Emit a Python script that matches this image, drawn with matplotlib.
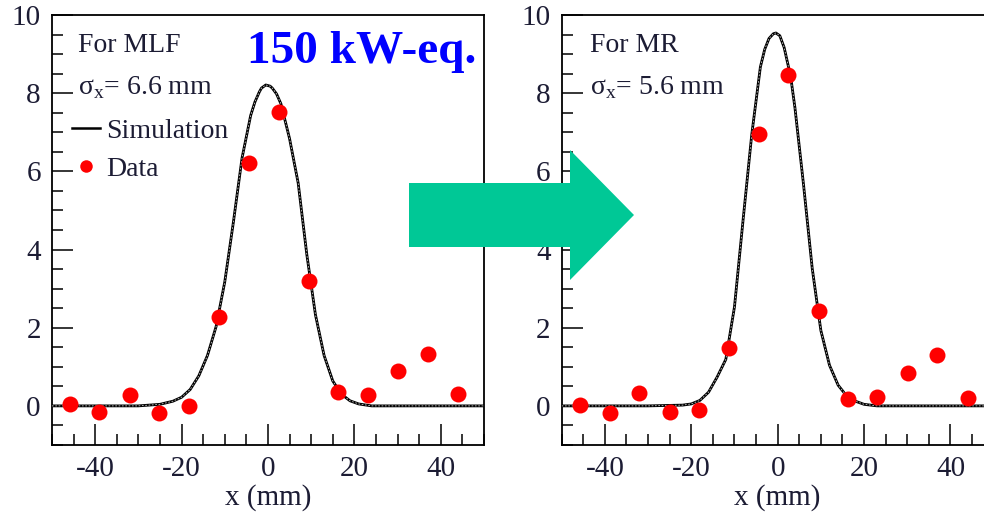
import matplotlib
matplotlib.use("Agg")
import matplotlib.pyplot as plt
from matplotlib.patches import FancyArrow
from matplotlib.lines import Line2D
from matplotlib.ticker import MultipleLocator

plt.rcParams['font.family'] = ['Liberation Serif', 'DejaVu Serif']
plt.rcParams['mathtext.fontset'] = 'custom'
plt.rcParams['mathtext.rm'] = 'Liberation Serif'
plt.rcParams['axes.unicode_minus'] = False

# --- données ---
# MLF (150 kW-eq.)
mlf_x = [-45.9, -39.0, -32.0, -25.2, -18.3, -11.4, -4.5, 2.6, 9.6, 16.3, 23.2, 30.1, 37.1, 44.1]
mlf_y = [0.04, -0.15, 0.27, -0.19, 0.0, 2.27, 6.22, 7.53, 3.19, 0.36, 0.27, 0.89, 1.32, 0.30]
mlf_sim_x = [-50, -30, -25, -22, -20, -18, -16, -14, -12, -10, -8, -6, -4, -3, -2, -1.5,
             -0.5, 0.5, 1, 2, 3, 5, 7, 9, 11, 13, 15, 17, 19, 21, 24, 50]
mlf_sim_y = [0.0, 0.0, 0.04, 0.12, 0.22, 0.42, 0.77, 1.29, 2.03, 3.17, 4.7, 6.34, 7.43, 7.78,
             8.03, 8.13, 8.21, 8.18, 8.13, 7.98, 7.73, 6.84, 5.7, 3.87, 2.33, 1.29, 0.64,
             0.3, 0.13, 0.05, 0.0, 0.0]

# MR
mr_x = [-45.7, -38.9, -32.0, -25.0, -18.1, -11.3, -4.4, 2.5, 9.5, 16.4, 23.1, 30.1, 37.0, 44.0]
mr_y = [0.02, -0.19, 0.34, -0.15, -0.11, 1.49, 6.95, 8.46, 2.43, 0.17, 0.24, 0.85, 1.29, 0.21]
mr_sim_x = [-50, -30, -22, -20, -18, -16, -14, -12, -10, -8, -6, -4, -3, -2, -1, -0.4,
            0.5, 1.5, 3, 4, 6, 8, 10, 12, 14, 16, 18, 20, 23, 50]
mr_sim_y = [0.0, 0.0, 0.02, 0.05, 0.14, 0.35, 0.74, 1.19, 2.53, 4.76, 6.94, 8.67, 9.12, 9.4,
            9.52, 9.54, 9.47, 9.17, 8.43, 7.63, 5.65, 3.52, 1.93, 1.04, 0.53, 0.25, 0.12,
            0.04, 0.0, 0.0]

txt_col = '#1c1c34'
fs = 21      # graduations et titres d'axe
fs_leg = 20  # textes en haut à gauche

fig = plt.figure(figsize=(9.84, 5.12), dpi=100)
ax1 = fig.add_axes([0.0528, 0.1309, 0.4390, 0.8398])
ax2 = fig.add_axes([0.5708, 0.1309, 0.4390, 0.8398])


def trace(ax, sx, sy, dx, dy):
    # courbe simulation : trait noir + fin tireté clair par-dessus
    ax.plot(sx, sy, color='black', linewidth=2.0, zorder=2)
    ax.plot(sx, sy, color='#c8c8c8', linewidth=0.6, dashes=(2, 2), zorder=3)
    ax.plot(dx, dy, 'o', color='#ff0000', markersize=11.5, markeredgewidth=0, zorder=4)
    ax.set_xlim(-50, 50)
    ax.set_ylim(-1, 10)
    ax.xaxis.set_major_locator(MultipleLocator(20))
    ax.xaxis.set_minor_locator(MultipleLocator(5))
    ax.yaxis.set_major_locator(MultipleLocator(2))
    ax.yaxis.set_minor_locator(MultipleLocator(0.5))
    ax.tick_params(which='both', direction='in', top=False, right=False,
                   labelsize=fs, labelcolor=txt_col, width=1.1, color='black')
    ax.tick_params(which='major', length=15, pad=8)
    ax.tick_params(which='minor', length=8)
    for sp in ax.spines.values():
        sp.set_linewidth(1.3)


trace(ax1, mlf_sim_x, mlf_sim_y, mlf_x, mlf_y)
trace(ax2, mr_sim_x, mr_sim_y, mr_x, mr_y)

ax1.set_xlabel('x (mm)', fontsize=fs, color=txt_col, labelpad=1.5)
ax2.set_xlabel('x (mm)', fontsize=fs, color=txt_col, labelpad=1.5)

# textes en haut à gauche
ax1.text(0.060, 0.930, 'For MLF', transform=ax1.transAxes, fontsize=fs_leg,
         color=txt_col, va='center', ha='left')
ax1.text(0.060, 0.830, r'σ$_\mathregular{x}$= 6.6 mm', transform=ax1.transAxes,
         fontsize=fs_leg, color=txt_col, va='center', ha='left')
ax2.text(0.0655, 0.930, 'For MR', transform=ax2.transAxes, fontsize=fs_leg,
         color=txt_col, va='center', ha='left')
ax2.text(0.0655, 0.830, r'σ$_\mathregular{x}$= 5.6 mm', transform=ax2.transAxes,
         fontsize=fs_leg, color=txt_col, va='center', ha='left')

handles = [Line2D([], [], color='black', linewidth=1.8),
           Line2D([], [], marker='o', linestyle='none', color='#ff0000',
                  markersize=9, markeredgewidth=0)]
leg = ax1.legend(handles, ['Simulation', 'Data'], loc='upper left',
                 bbox_to_anchor=(0.046, 0.76), frameon=False, fontsize=fs_leg,
                 handlelength=1.0, handletextpad=0.25, labelspacing=0.45,
                 borderpad=0, borderaxespad=0, numpoints=1)
for t in leg.get_texts():
    t.set_color(txt_col)

fig.text(0.251, 0.877, '150 kW-eq.', fontsize=34, fontweight='bold',
         color='#0000ff', ha='left', va='baseline')

# flèche verte (en pouces, dpi 100)
arrow = FancyArrow(4.09, 2.97, 2.25, 0, width=0.64, head_width=1.30, head_length=0.64,
                   length_includes_head=True, color='#00c896', linewidth=0,
                   transform=fig.dpi_scale_trans, zorder=10)
fig.add_artist(arrow)

fig.savefig('out.png', dpi=100)
